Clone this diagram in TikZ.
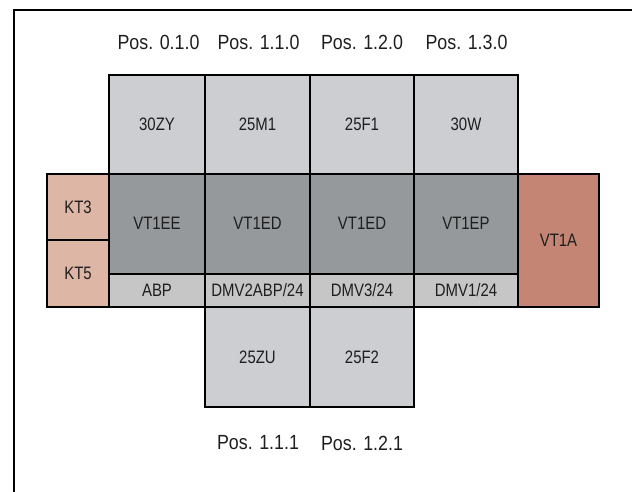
\documentclass[tikz,border=0pt]{standalone}
\usepackage{fontspec}
\setmainfont{Liberation Sans}[FakeStretch=0.87]
\newfontfamily\boxfont{Liberation Sans}[FakeStretch=0.83]
\definecolor{lightbox}{HTML}{CDCED2}
\definecolor{darkbox}{HTML}{95999C}
\definecolor{stripbox}{HTML}{C6C6C6}
\definecolor{ktbox}{HTML}{DDB6A6}
\definecolor{vtabox}{HTML}{C58574}
\definecolor{txt}{HTML}{1E1E1E}
\tikzset{
  cell/.style={draw=black, line width=2pt, rectangle, inner sep=0pt, text=txt,
    font=\boxfont\fontsize{18}{21}\selectfont},
  poslabel/.style={inner sep=0pt, text=txt, font=\fontsize{20.5}{24}\selectfont},
  frameline/.style={draw=black, line width=2pt}
}
\begin{document}
\begin{tikzpicture}[x=1pt,y=-1pt]
\useasboundingbox (0,0) rectangle (632,492);
% frame
\coordinate (fbl) at (13.5,494);
\coordinate (ftl) at (13.5,10.5);
\coordinate (ftr) at (634,10.5);
\draw[frameline] (fbl) -- (ftl) -- (ftr);
% top row
\node[cell, fill=lightbox, minimum width=96pt, minimum height=99pt] (zy) at (157,124.5) {30ZY};
\node[cell, fill=lightbox, minimum width=105pt, minimum height=99pt] (m1) at (257.5,124.5) {25M1};
\node[cell, fill=lightbox, minimum width=104pt, minimum height=99pt] (f1) at (362,124.5) {25F1};
\node[cell, fill=lightbox, minimum width=104pt, minimum height=99pt] (w) at (466,124.5) {30W};
% middle dark row
\node[cell, fill=darkbox, minimum width=96pt, minimum height=99.5pt] (ee) at (157,223.75) {VT1EE};
\node[cell, fill=darkbox, minimum width=105pt, minimum height=99.5pt] (ed1) at (257.5,223.75) {VT1ED};
\node[cell, fill=darkbox, minimum width=104pt, minimum height=99.5pt] (ed2) at (362,223.75) {VT1ED};
\node[cell, fill=darkbox, minimum width=104pt, minimum height=99.5pt] (ep) at (466,223.75) {VT1EP};
% strip
\node[cell, fill=stripbox, minimum width=96pt, minimum height=33.5pt] (abp) at (157,290.25) {ABP};
\node[cell, fill=stripbox, minimum width=105pt, minimum height=33.5pt] (dmv2) at (257.5,290.25) {DMV2ABP/24};
\node[cell, fill=stripbox, minimum width=104pt, minimum height=33.5pt] (dmv3) at (362,290.25) {DMV3/24};
\node[cell, fill=stripbox, minimum width=104pt, minimum height=33.5pt] (dmv1) at (466,290.25) {DMV1/24};
% left KT
\node[cell, fill=ktbox, minimum width=62pt, minimum height=66pt] (kt3) at (78,207) {KT3};
\node[cell, fill=ktbox, minimum width=62pt, minimum height=67pt] (kt5) at (78,273.5) {KT5};
% right VT1A
\node[cell, fill=vtabox, minimum width=81pt, minimum height=133pt] (vta) at (558.5,240.5) {VT1A};
% bottom row
\node[cell, fill=lightbox, minimum width=105pt, minimum height=100pt] (zu) at (257.5,357) {25ZU};
\node[cell, fill=lightbox, minimum width=104pt, minimum height=100pt] (f2) at (362,357) {25F2};
% position labels
\node[poslabel] (p010) at (158.5,42) {Pos. 0.1.0};
\node[poslabel] (p110) at (258.5,42) {Pos. 1.1.0};
\node[poslabel] (p120) at (362,42) {Pos. 1.2.0};
\node[poslabel] (p130) at (466.5,42) {Pos. 1.3.0};
\node[poslabel] (p111) at (258,443) {Pos. 1.1.1};
\node[poslabel] (p121) at (362,443) {Pos. 1.2.1};
\end{tikzpicture}
\end{document}
